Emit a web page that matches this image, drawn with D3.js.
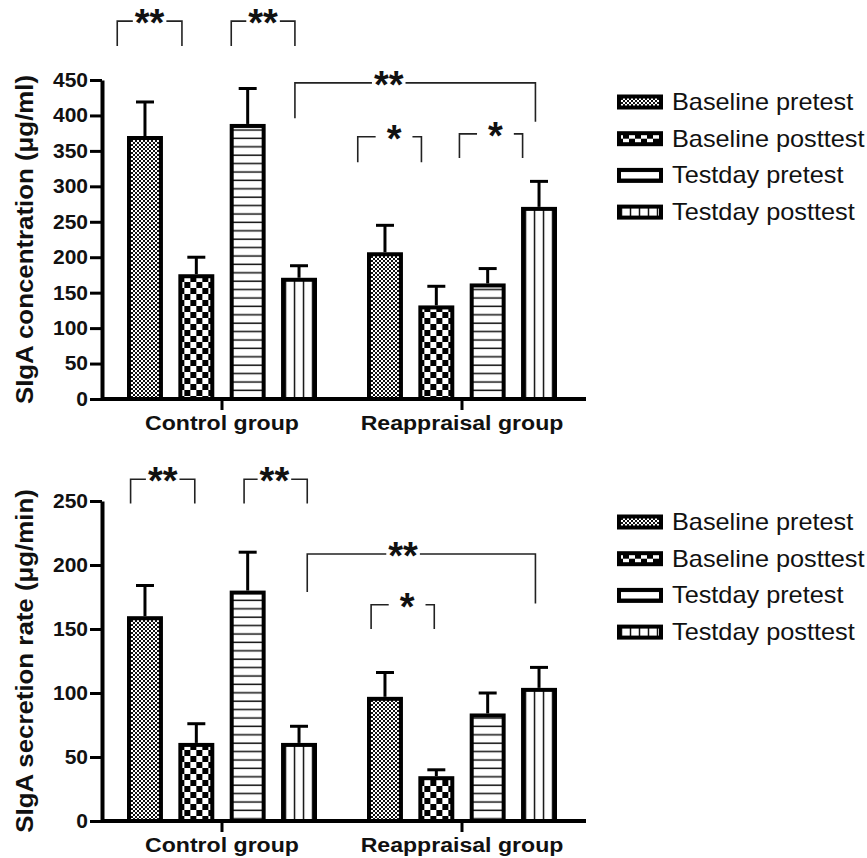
<!DOCTYPE html>
<html>
<head>
<meta charset="utf-8">
<script src="https://cdn.jsdelivr.net/npm/d3@7"></script>
<style>
  body { margin: 0; background: #fff; }
  svg { display: block; font-family: "Liberation Sans", Arial, sans-serif; }
</style>
</head>
<body>
<div id="chart"></div>
<script>
// ---- data ----
const groups = ["Control group", "Reappraisal group"];
const series = ["Baseline pretest", "Baseline posttest", "Testday pretest", "Testday posttest"];

// SIgA concentration (ug/ml): mean and SEM per group, per series
const concMean = [[371, 176, 388, 171], [207, 132, 163, 271]];
const concSem  = [[48, 24, 50, 17], [38, 27, 21, 36]];
const concTicks = [0, 50, 100, 150, 200, 250, 300, 350, 400, 450];

// SIgA secretion rate (ug/min)
const rateMean = [[160, 61, 180, 61], [97, 35, 84, 104]];
const rateSem  = [[24, 15, 30, 13], [19, 5, 16, 16]];
const rateTicks = [0, 50, 100, 150, 200, 250];

// significance brackets: bar index (0..7) + offset in bar steps, heights in data units
const concBrackets = [
  {from: [0, -0.54], to: [1, -0.28], top: 533, endL: 498, endR: 498, label: "**", at: 0.5},
  {from: [2, -0.32], to: [3, -0.08], top: 533, endL: 498, endR: 498, label: "**", at: 0.5},
  {from: [3, -0.08], to: [7, -0.07], top: 446, endL: 396, endR: 391, label: "**", at: 0.39},
  {from: [4, -0.53], to: [5, -0.29], top: 370, endL: 334, endR: 334, label: "*", at: 0.57},
  {from: [6, -0.55], to: [7, -0.32], top: 374, endL: 340, endR: 340, label: "*", at: 0.57}
];
const rateBrackets = [
  {from: [0, -0.28], to: [1, -0.03], top: 267, endL: 248, endR: 248, label: "**", at: 0.5},
  {from: [2, -0.07], to: [3, 0.16], top: 267, endL: 248, endR: 248, label: "**", at: 0.48},
  {from: [3, 0.16], to: [7, -0.07], top: 208.6, endL: 179, endR: 170, label: "**", at: 0.42},
  {from: [4, -0.27], to: [5, -0.04], top: 169, endL: 150, endR: 150, label: "*", at: 0.57}
];

// ---- layout ----
const W = 867, H = 858;
const patterns = ["pFine", "pCheck", "pHline", "pVline"];

const panels = [
  {title: "SIgA concentration (\u03bcg/ml)", mean: concMean, sem: concSem, ticks: concTicks,
   brackets: concBrackets, yTop: 80, yBottom: 399, legendY: 102},
  {title: "SIgA secretion rate (\u03bcg/min)", mean: rateMean, sem: rateSem, ticks: rateTicks,
   brackets: rateBrackets, yTop: 501, yBottom: 821, legendY: 522}
];

const svg = d3.select("#chart").append("svg")
  .attr("width", W).attr("height", H);

function makePatterns(defs) {
  const fine = defs.append("pattern").attr("id", "pFine")
    .attr("patternUnits", "userSpaceOnUse").attr("width", 4).attr("height", 4);
  fine.append("rect").attr("width", 4).attr("height", 4).attr("fill", "#fff");
  fine.append("rect").attr("width", 2).attr("height", 2).attr("fill", "#111");
  fine.append("rect").attr("x", 2).attr("y", 2).attr("width", 2).attr("height", 2).attr("fill", "#111");

  const check = defs.append("pattern").attr("id", "pCheck")
    .attr("patternUnits", "userSpaceOnUse").attr("width", 12).attr("height", 12);
  check.append("rect").attr("width", 12).attr("height", 12).attr("fill", "#fff");
  check.append("rect").attr("width", 6).attr("height", 6).attr("fill", "#000");
  check.append("rect").attr("x", 6).attr("y", 6).attr("width", 6).attr("height", 6).attr("fill", "#000");

  const hl = defs.append("pattern").attr("id", "pHline")
    .attr("patternUnits", "userSpaceOnUse").attr("width", 10).attr("height", 8.4);
  hl.append("rect").attr("width", 10).attr("height", 8.4).attr("fill", "#fff");
  hl.append("line").attr("x1", 0).attr("x2", 10).attr("y1", 4).attr("y2", 4)
    .attr("stroke", "#111").attr("stroke-width", 1.5);

  const vl = defs.append("pattern").attr("id", "pVline")
    .attr("patternUnits", "userSpaceOnUse").attr("width", 9).attr("height", 10);
  vl.append("rect").attr("width", 9).attr("height", 10).attr("fill", "#fff");
  vl.append("line").attr("x1", 4.5).attr("x2", 4.5).attr("y1", 0).attr("y2", 10)
    .attr("stroke", "#111").attr("stroke-width", 1.5);
}
makePatterns(svg.append("defs"));

// text helper: glyphs in the figure are a bit wider than Arial, so stretch them
function addText(sel, str, x, y, opts) {
  const rot = opts.rotate ? ` rotate(${opts.rotate})` : "";
  const sx = opts.sx || 1.1;
  return sel.append("text")
    .attr("transform", `translate(${x},${y})${rot} scale(${sx},1)`)
    .attr("text-anchor", opts.anchor || "start")
    .attr("font-size", opts.size)
    .attr("font-weight", opts.bold ? "bold" : "normal")
    .attr("fill", "#111")
    .text(str);
}

const x = d3.scaleBand().domain(groups).range([102, 582]);
const xInner = d3.scaleBand().domain(series).range([-95, 95]).paddingInner(0.3);
const step = xInner.step();

function barCenter(i) {
  const g = groups[Math.floor(i / 4)], s = series[i % 4];
  return x(g) + x.bandwidth() / 2 + xInner(s) + xInner.bandwidth() / 2;
}

panels.forEach(p => {
  const yMax = p.ticks[p.ticks.length - 1];
  const y = d3.scaleLinear().domain([0, yMax]).range([p.yBottom, p.yTop]);
  const g = svg.append("g");

  // bars
  const rows = [];
  groups.forEach((gr, gi) => series.forEach((s, si) => rows.push({
    group: gr, series: s, si, mean: p.mean[gi][si], sem: p.sem[gi][si]
  })));

  const bars = g.append("g").selectAll("g").data(rows).join("g")
    .attr("transform", d => `translate(${x(d.group) + x.bandwidth() / 2 + xInner(d.series)},0)`);

  const bw = xInner.bandwidth();
  // error bars first, so the bar outline sits on top
  bars.append("line")
    .attr("x1", bw / 2).attr("x2", bw / 2)
    .attr("y1", d => y(d.mean)).attr("y2", d => y(d.mean + d.sem))
    .attr("stroke", "#000").attr("stroke-width", 3);
  bars.append("line")
    .attr("x1", bw / 2 - 9).attr("x2", bw / 2 + 9)
    .attr("y1", d => y(d.mean + d.sem)).attr("y2", d => y(d.mean + d.sem))
    .attr("stroke", "#000").attr("stroke-width", 3);
  bars.append("rect")
    .attr("x", 2).attr("width", bw - 4)
    .attr("y", d => y(d.mean) + 2)
    .attr("height", d => y(0) - y(d.mean) - 2)
    .attr("fill", d => `url(#${patterns[d.si]})`)
    .attr("stroke", "#000").attr("stroke-width", 4);

  // y axis
  const tickSx = 1.05;
  const yAxis = g.append("g").attr("transform", `translate(${x.range()[0]},0)`)
    .call(d3.axisLeft(y).tickValues(p.ticks).tickSize(12).tickSizeOuter(0).tickPadding(2));
  yAxis.select(".domain").attr("stroke", "#000").attr("stroke-width", 4);
  yAxis.selectAll(".tick line").attr("stroke", "#000").attr("stroke-width", 3);
  yAxis.selectAll(".tick text")
    .attr("x", -14 / tickSx)
    .attr("transform", `scale(${tickSx},1)`)
    .attr("font-size", 20).attr("font-weight", "bold")
    .attr("font-family", "'Liberation Sans', Arial, sans-serif")
    .attr("fill", "#111");

  // x axis (categorical, ticks at group centres)
  g.append("line")
    .attr("x1", x.range()[0]).attr("x2", x.range()[1] + 4)
    .attr("y1", y(0)).attr("y2", y(0))
    .attr("stroke", "#000").attr("stroke-width", 4);
  groups.forEach(gr => {
    const cx = x(gr) + x.bandwidth() / 2;
    g.append("line").attr("x1", cx).attr("x2", cx)
      .attr("y1", y(0)).attr("y2", y(0) + 11)
      .attr("stroke", "#000").attr("stroke-width", 3);
    addText(g, gr, cx, y(0) + 31, {anchor: "middle", size: 21, bold: true});
  });

  // y title
  addText(g, p.title, 33, (p.yTop + p.yBottom) / 2, {anchor: "middle", size: 23.5, bold: true, rotate: -90});

  // significance brackets
  p.brackets.forEach(b => {
    const x1 = barCenter(b.from[0]) + b.from[1] * step;
    const x2 = barCenter(b.to[0]) + b.to[1] * step;
    const yt = y(b.top);
    const cx = x1 + (x2 - x1) * b.at;
    const t = addText(g, b.label, cx, yt + 15, {anchor: "middle", size: 38, bold: true, sx: 1});
    const half = t.node().getComputedTextLength() / 2;
    const pad = b.label.length === 1 ? 11 : 2;
    g.append("path")
      .attr("d", `M${x1},${y(b.endL)}V${yt}H${cx - half - pad}M${cx + half + pad},${yt}H${x2}V${y(b.endR)}`)
      .attr("fill", "none").attr("stroke", "#222").attr("stroke-width", 1.6);
  });

  // legend
  const lg = g.append("g").attr("transform", `translate(617,${p.legendY})`);
  series.forEach((s, i) => {
    const row = lg.append("g").attr("transform", `translate(0,${i * 36.7})`);
    row.append("rect").attr("x", 2).attr("y", -5.5).attr("width", 42).attr("height", 11)
      .attr("fill", `url(#${patterns[i]})`).attr("stroke", "#000").attr("stroke-width", 4);
    addText(row, s, 55, 8, {size: 23});
  });
});
</script>
</body>
</html>
